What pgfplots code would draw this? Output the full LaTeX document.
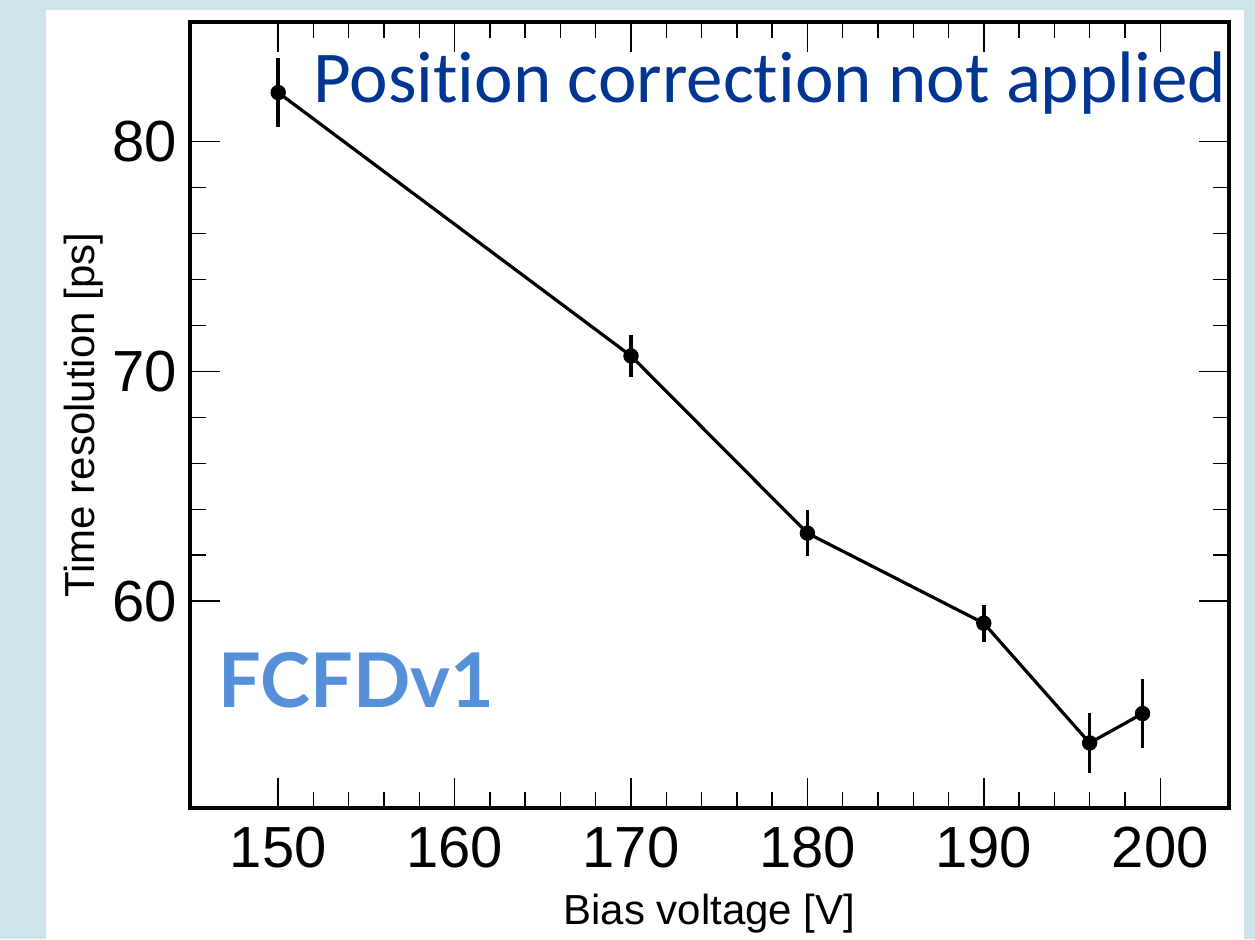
\documentclass[border=0pt]{standalone}
\usepackage{pgfplots}
\pgfplotsset{compat=1.18}
\usepackage{fontspec}
\setmainfont{Liberation Sans}
\newfontfamily\calibri{Carlito}[Ligatures=NoCommon]
\newfontfamily\latob{Lato}[UprightFont=* Bold]
\definecolor{slidebg}{HTML}{CFE3EA}
\definecolor{titleblue}{HTML}{003592}
\definecolor{tagblue}{HTML}{5590D8}

\pgfplotstableread{
V     res    err
150   82.13  1.50
170   70.67  0.90
180   62.96  1.00
190   59.04  0.80
196   53.83  1.30
199   55.11  1.50
}\restable

\begin{document}
\begin{tikzpicture}
% slide background and white panel
\useasboundingbox (-95pt,-65.5pt) rectangle (532.5pt,404pt);
\fill[slidebg] (-95pt,-65.5pt) rectangle (532.5pt,404pt);
\fill[white] (-72pt,-65.5pt) rectangle (527pt,399pt);
\begin{axis}[
  at={(0pt,0pt)}, anchor=south west,
  scale only axis,
  width=519.5pt, height=393pt,
  xmin=145, xmax=203.9,
  ymin=51, ymax=85.2,
  xtick={150,160,...,200},
  ytick={60,70,80},
  minor x tick num=4,
  minor y tick num=4,
  tick align=inside,
  major tick length=15pt,
  minor tick length=8pt,
  every tick/.style={black, line width=0.7pt},
  axis line style={line width=2.2pt},
  /pgf/number format/assume math mode=true,
  ticklabel style={font=\fontsize{29}{35}\selectfont, inner sep=0pt},
  yticklabel style={xshift=-6.5pt},
  xticklabel style={yshift=-9.5pt},
  xlabel={Bias voltage [V]},
  ylabel={Time resolution [ps]},
  label style={font=\fontsize{21}{25}\selectfont},
  xlabel style={at={(rel axis cs:0.5,0)}, anchor=center, yshift=-53pt},
  ylabel style={at={(rel axis cs:0,0.5)}, anchor=center, rotate=0, yshift=53pt},
  clip=false,
]
\addplot+[black, line width=1.6pt, mark=*, mark size=3.6pt,
  mark options={fill=black, draw=black, line width=0.5pt},
  error bars/.cd, y dir=both, y explicit, error mark=none,
  error bar style={line width=1.8pt, black}]
  table[x=V, y=res, y error=err] {\restable};
\node[anchor=base west, inner sep=0pt, text=titleblue,
  font=\calibri\fontsize{36.5}{40}\selectfont]
  at (rel axis cs:0.1184,0.898) {Position correction not applied};
\node[anchor=base west, inner sep=0pt, text=tagblue,
  font=\latob\fontsize{37.7}{42}\selectfont]
  at (rel axis cs:0.027,0.1285) {FCFDv1};
\end{axis}
\end{tikzpicture}
\end{document}
